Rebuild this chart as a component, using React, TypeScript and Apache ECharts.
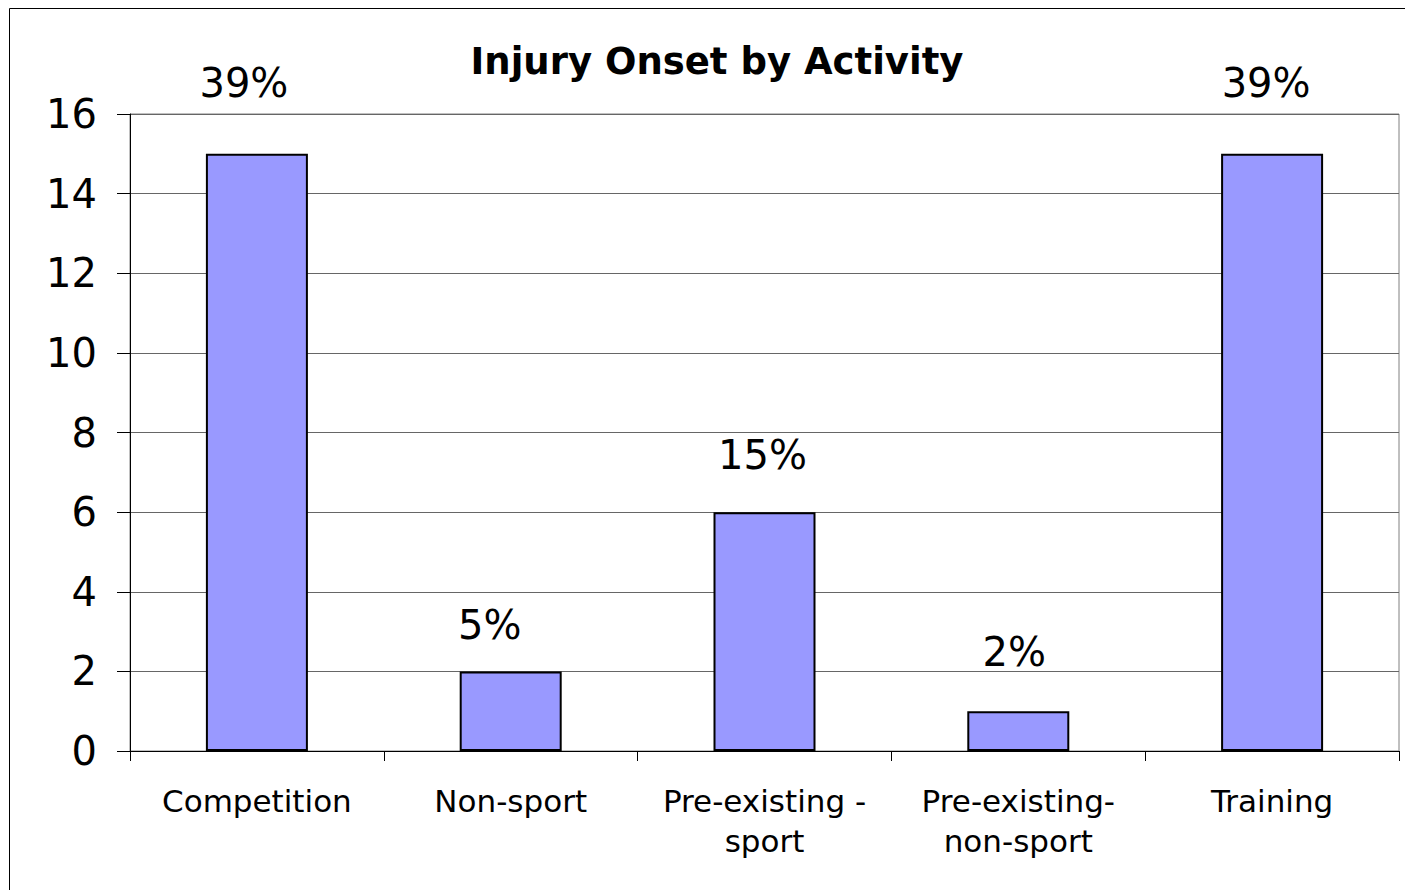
import React, { useEffect, useRef } from "react";
import * as echarts from "echarts";

const categories = ["Competition", "Non-sport", "Pre-existing -\nsport", "Pre-existing-\nnon-sport", "Training"];
const counts = [15, 2, 6, 1, 15];
const percentLabels = ["39%", "5%", "15%", "2%", "39%"];
const labelGaps = [51, 26, 37, 39, 51];
const labelShiftX = [-13, -21, -2, -4, -6];
const yTicks = { min: 0, max: 16, interval: 2 };
const titleText = "Injury Onset by Activity";

const FONT = "'DejaVu Sans', sans-serif";

export default function App() {
  const ref = useRef<HTMLDivElement>(null);
  useEffect(() => {
    if (!ref.current) return;
    const chart = echarts.init(ref.current, null, { renderer: "svg" });
    chart.setOption({
      animation: false,
      backgroundColor: "#ffffff",
      title: {
        text: titleText,
        left: 717,
        top: 43,
        textAlign: "center",
        padding: 0,
        textStyle: { fontFamily: FONT, fontSize: 37, fontWeight: "bold", color: "#000" },
      },
      graphic: [
        {
          type: "rect",
          shape: { x: 9.5, y: 8.5, width: 1450, height: 950 },
          style: { fill: "none", stroke: "#000", lineWidth: 1 },
          silent: true,
        },
      ],
      grid: { left: 130, top: 114, right: 6, bottom: 139, show: true, borderColor: "#808080", borderWidth: 1 },
      xAxis: {
        type: "category",
        data: categories,
        axisLine: { show: true, lineStyle: { color: "#000", width: 1 } },
        axisTick: { show: true, length: 10, lineStyle: { color: "#000" }, alignWithLabel: false },
        axisLabel: {
          interval: 0,
          margin: 30,
          fontFamily: FONT,
          fontSize: 31,
          lineHeight: 40,
          color: "#000",
        },
        splitLine: { show: false },
      },
      yAxis: {
        type: "value",
        min: yTicks.min,
        max: yTicks.max,
        interval: yTicks.interval,
        axisLine: { show: true, lineStyle: { color: "#000", width: 1 } },
        axisTick: { show: true, length: 13, lineStyle: { color: "#000" } },
        axisLabel: { margin: 33, fontFamily: FONT, fontSize: 40, color: "#000" },
        splitLine: { show: true, lineStyle: { color: "#666666", width: 1 } },
      },
      series: [
        {
          type: "bar",
          barWidth: 102,
          data: counts.map((v, i) => ({
            value: v,
            label: {
              show: true,
              position: "top",
              distance: labelGaps[i],
              offset: [labelShiftX[i], 0],
              formatter: percentLabels[i],
              fontFamily: FONT,
              fontSize: 40,
              color: "#000",
            },
          })),
          itemStyle: { color: "#9999FF", borderColor: "#000", borderWidth: 2 },
        },
      ],
    });
    return () => chart.dispose();
  }, []);
  return (
    <div
      ref={ref}
      style={{ position: "fixed", left: 0, top: 0, width: 1405, height: 890, background: "#fff" }}
    />
  );
}
